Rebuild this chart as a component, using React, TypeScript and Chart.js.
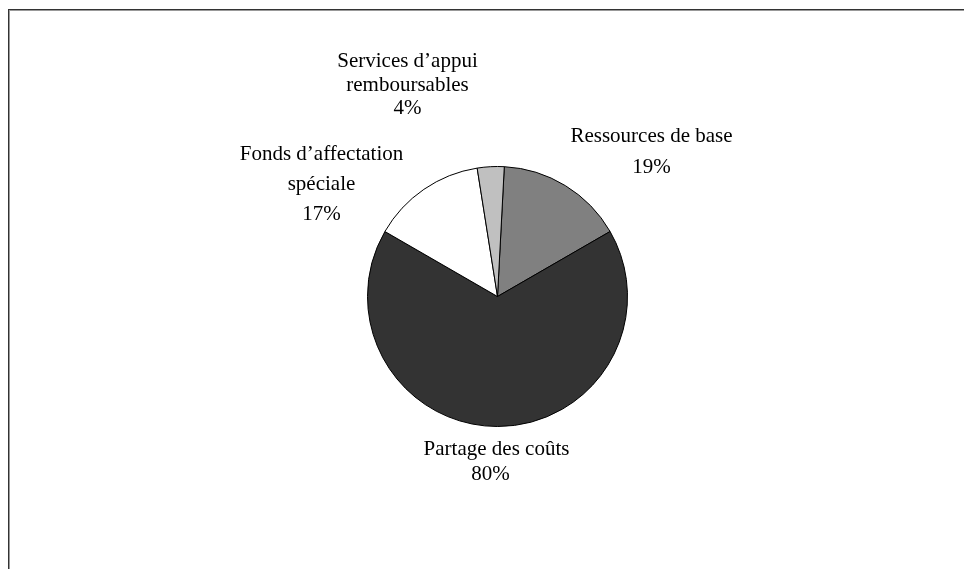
import React, { useEffect, useRef } from "react";
import { Chart, registerables } from "chart.js";

Chart.register(...registerables);

const categories = ["Ressources de base", "Partage des coûts", "Fonds d’affectation spéciale", "Services d’appui remboursables"];
const values = [19, 80, 17, 4];
const labelLines = [
  ["Ressources de base", "19%"],
  ["Partage des coûts", "80%"],
  ["Fonds d’affectation", "spéciale", "17%"],
  ["Services d’appui", "remboursables", "4%"],
];
const sliceColors = ["#808080", "#333333", "#ffffff", "#c0c0c0"];

// label anchor offsets relative to pie centre: [dx, firstLineDy, lineSpacing, lastLineDx]
const LABEL_LAYOUT = [
  [154, -160, 31, 0],
  [-1, 153, 25, -6],
  [-176, -142, 30, 0],
  [-90, -235, 23.5, 0],
];

const labelPlugin = {
  id: "outsideLabels",
  afterDraw(chart: any) {
    const meta = chart.getDatasetMeta(0);
    if (!meta.data.length) return;
    const { x, y } = meta.data[0];
    const ctx = chart.ctx;
    ctx.save();
    ctx.font = "21px 'Liberation Serif', 'Times New Roman', serif";
    ctx.fillStyle = "#000";
    ctx.textAlign = "center";
    ctx.textBaseline = "middle";
    labelLines.forEach((lines, i) => {
      const [dx, dy, sp, lastDx] = LABEL_LAYOUT[i];
      lines.forEach((ln, j) => {
        const extra = j === lines.length - 1 ? lastDx : 0;
        ctx.fillText(ln, x + dx + extra, y + dy + j * sp);
      });
    });
    ctx.restore();
  },
};

export default function App() {
  const ref = useRef<HTMLCanvasElement>(null);
  useEffect(() => {
    if (!ref.current) return;
    const chart = new Chart(ref.current, {
      type: "pie",
      data: {
        labels: categories,
        datasets: [
          {
            data: values,
            backgroundColor: sliceColors,
            borderColor: "#000",
            borderWidth: 1,
          },
        ],
      },
      options: {
        animation: false,
        responsive: false,
        rotation: 3,
        layout: { padding: { left: 359, right: 344, top: 158, bottom: 142 } },
        plugins: {
          legend: { display: false },
          tooltip: { enabled: false },
        },
      },
      plugins: [labelPlugin],
    });
    return () => chart.destroy();
  }, []);

  return (
    <div style={{ width: 964, height: 561, overflow: "hidden", position: "relative" }}>
      <div
        style={{
          position: "absolute",
          left: 0,
          top: 1,
          width: 1000,
          height: 620,
          borderLeft: "1px solid #333",
          borderTop: "1px solid #333",
          boxShadow: "inset 1px 1px 0 #999",
        }}
      />
      <canvas ref={ref} width={964} height={561} style={{ position: "absolute", left: 0, top: 0 }} />
    </div>
  );
}
